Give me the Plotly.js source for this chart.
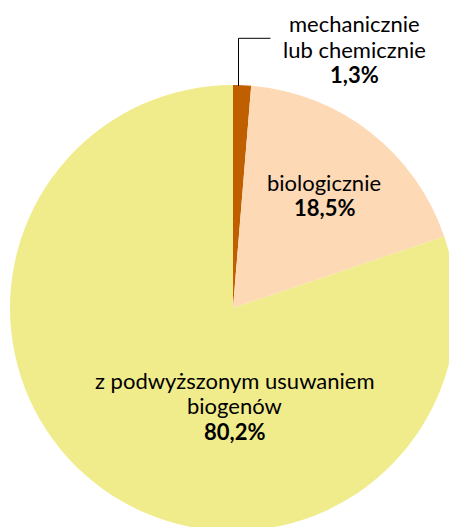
<!DOCTYPE html>
<html>
<head>
<meta charset="utf-8">
<script src="https://cdn.plot.ly/plotly-3.0.1.min.js"></script>
<style>
  html, body { margin: 0; padding: 0; overflow: hidden; background: #fff; }
  #chart { width: 460px; height: 540px; }
</style>
</head>
<body>
<div id="chart"></div>
<script>
// ---- data ----
const categories = ['mechanicznie lub chemicznie', 'biologicznie', 'z podwyższonym usuwaniem biogenów'];
const shares = [1.3, 18.5, 80.2];
const labelLines = [
  ['mechanicznie', 'lub chemicznie'],
  ['biologicznie'],
  ['z podwyższonym usuwaniem', 'biogenów']
];
const sliceColors = ['#C05F00', '#FDD9B5', '#F0EC8C'];

// ---- layout geometry (pixels) ----
const W = 460, H = 540, ML = 10, MT = 85, PW = 446, PH = 446;
const labelAnchors = [[354, 32], [324, 190], [234, 388]]; // center x, first baseline
const lineGap = 25.5;
const FONT = 'Lato, "Open Sans", sans-serif';
const FS = 22;

const px = x => (x - ML) / PW;
const py = y => 1 - (y - MT) / PH;

const fmt = v => v.toFixed(1).replace('.', ',') + '%';

const annotations = [];
labelLines.forEach((lines, i) => {
  const [cx, by] = labelAnchors[i];
  const all = lines.concat(['<b>' + fmt(shares[i]) + '</b>']);
  all.forEach((t, j) => {
    annotations.push({
      xref: 'paper', yref: 'paper',
      x: px(cx), y: py(by + j * lineGap - 8),
      xanchor: 'center', yanchor: 'middle',
      text: t, showarrow: false,
      font: { family: FONT, size: FS, color: '#000' }
    });
  });
});

const trace = {
  type: 'pie',
  labels: categories,
  values: shares,
  sort: false,
  direction: 'clockwise',
  rotation: 0,
  textinfo: 'none',
  hoverinfo: 'skip',
  marker: { colors: sliceColors, line: { width: 0 } },
  domain: { x: [0, 1], y: [0, 1] },
  showlegend: false
};

const layout = {
  width: W, height: H,
  margin: { l: ML, t: MT, r: W - ML - PW, b: H - MT - PH, pad: 0 },
  paper_bgcolor: '#fff',
  plot_bgcolor: '#fff',
  showlegend: false,
  annotations: annotations,
  shapes: [
    { type: 'line', xref: 'paper', yref: 'paper', x0: px(238.5), x1: px(238.5), y0: py(86), y1: py(38.3), line: { color: '#000', width: 1 } },
    { type: 'line', xref: 'paper', yref: 'paper', x0: px(238.5), x1: px(270.5), y0: py(38.3), y1: py(38.3), line: { color: '#000', width: 1 } }
  ]
};

Plotly.newPlot('chart', [trace], layout, { staticPlot: true, displayModeBar: false });
</script>
</body>
</html>
